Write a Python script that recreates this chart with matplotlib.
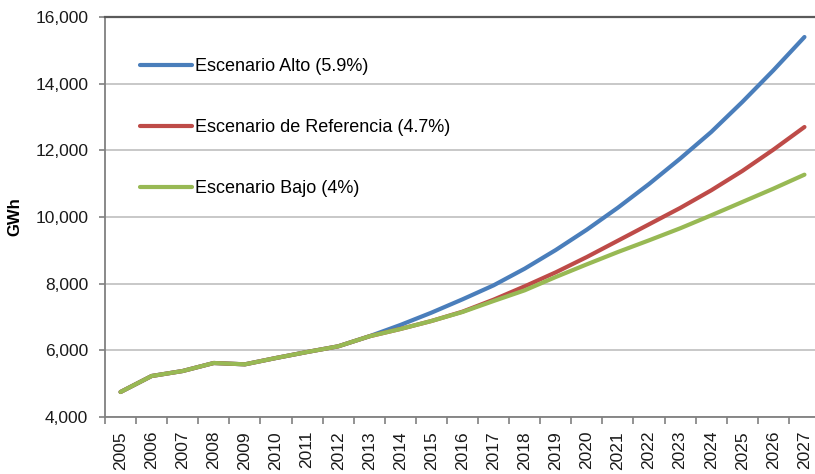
import matplotlib
matplotlib.use("Agg")
import matplotlib.pyplot as plt
from matplotlib.ticker import FuncFormatter, FixedLocator

plt.rcParams["font.family"] = ["Liberation Sans", "DejaVu Sans"]

years = [str(y) for y in range(2005, 2028)]

# Historic demand shared by every scenario (2005-2013), GWh
historico = [4750, 5230, 5380, 5620, 5580, 5770, 5950, 6120, 6420]

# Projections 2014-2027, GWh
alto = [6760, 7130, 7530, 7950, 8450, 9010, 9620, 10280, 10990,
        11750, 12550, 13450, 14400, 15400]
referencia = [6640, 6880, 7160, 7520, 7920, 8340, 8800, 9290, 9780,
              10270, 10800, 11380, 12020, 12700]
bajo = [6640, 6880, 7150, 7480, 7800, 8200, 8580, 8950, 9300,
        9660, 10050, 10450, 10850, 11270]

series = [
    ("Escenario Alto (5.9%)", alto, "#4a7ebb"),
    ("Escenario de Referencia (4.7%)", referencia, "#be4b48"),
    ("Escenario Bajo (4%)", bajo, "#98b954"),
]

fig = plt.figure(figsize=(8.15, 4.74), dpi=100, facecolor="white")
# plot area runs slightly past the right edge of the canvas
ax = fig.add_axes([105 / 815, 57 / 474, 715 / 815, 400 / 474])

x = list(range(len(years)))
for label, proj, color in series:
    ax.plot(x, historico + proj, color=color, lw=3.0, label=label,
            solid_capstyle="round", solid_joinstyle="round")

ax.set_xlim(-0.5, len(years) - 0.5)
ax.set_ylim(4000, 16000)
ax.set_yticks(range(4000, 16001, 2000))
ax.yaxis.set_major_formatter(FuncFormatter(lambda v, p: f"{int(v):,}"))
ax.grid(axis="y", color="#c4c4c4", lw=1.3)
ax.set_axisbelow(True)

# category labels centred, tick marks on the boundaries
ax.set_xticks(x)
ax.set_xticklabels(years, rotation=90, fontsize=12.5, color="#1a1a1a")
ax.tick_params(axis="x", which="major", length=0, pad=10)
ax.xaxis.set_minor_locator(FixedLocator([i - 0.5 for i in range(len(years) + 1)]))
ax.tick_params(axis="x", which="minor", length=5, width=1.2, color="#808080")
ax.tick_params(axis="y", length=4, width=1.2, color="#808080", pad=8,
               labelsize=12.5, labelcolor="#1a1a1a")

for side in ("left", "bottom"):
    ax.spines[side].set_color("#808080")
    ax.spines[side].set_linewidth(1.3)
ax.spines["top"].set_color("#5a5a5a")
ax.spines["top"].set_linewidth(1.6)
ax.spines["right"].set_visible(False)

ax.set_ylabel("GWh", fontsize=12, fontweight="bold", labelpad=9)

ax.legend(loc="upper left", bbox_to_anchor=(140 / 815, (474 - 58) / 474),
          bbox_transform=fig.transFigure, frameon=False, fontsize=13,
          handlelength=2.9, handletextpad=0.15, labelspacing=2.45,
          borderpad=0, borderaxespad=0)

fig.savefig("out.png", dpi=100, facecolor="white")
